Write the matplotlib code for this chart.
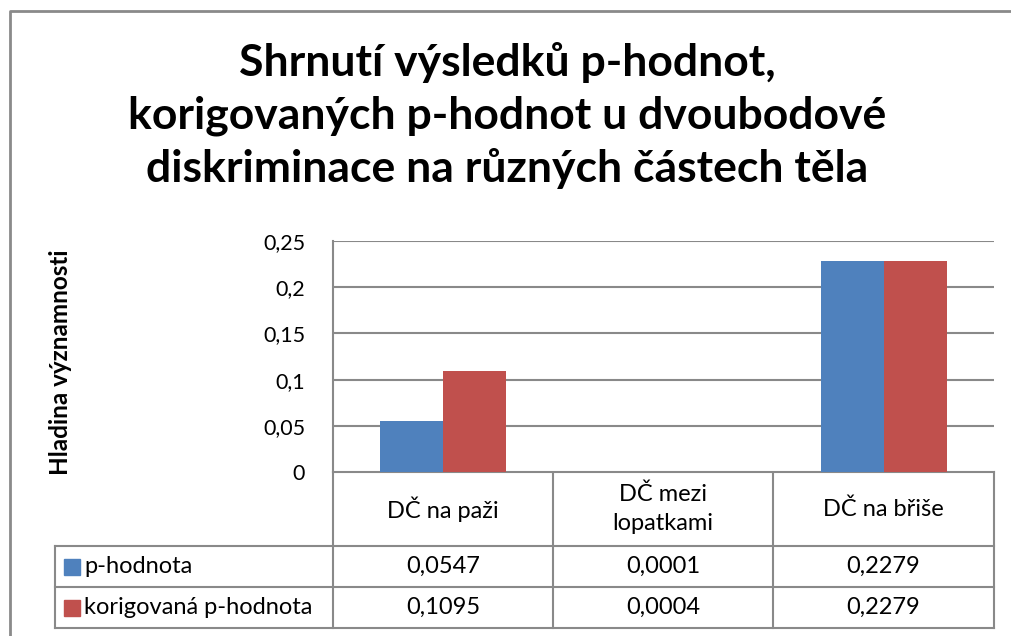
import matplotlib
matplotlib.use("Agg")
import matplotlib.pyplot as plt
import numpy as np

plt.rcParams['font.family'] = ['Lato', 'DejaVu Sans']

categories = ["DČ na paži", "DČ mezi\nlopatkami", "DČ na břiše"]
series_names = ["p-hodnota", "korigovaná p-hodnota"]
p_values = [0.0547, 0.0001, 0.2279]
p_corrected = [0.1095, 0.0004, 0.2279]
value_labels = [["0,0547", "0,0001", "0,2279"], ["0,1095", "0,0004", "0,2279"]]
y_ticks = [0, 0.05, 0.1, 0.15, 0.2, 0.25]
y_tick_labels = ["0", "0,05", "0,1", "0,15", "0,2", "0,25"]
colors = ["#4F81BD", "#C0504D"]
title_lines = ["Shrnutí výsledků p-hodnot,",
               "korigovaných p-hodnot u dvoubodové",
               "diskriminace na různých částech těla"]
ylabel = "Hladina významnosti"

W, H = 1011, 636
fig = plt.figure(figsize=(W / 100, H / 100), dpi=100)
grid_col = "#898989"

def fx(px):
    return px / W

def fy(py):
    return 1 - py / H

# background/table axes in pixel coordinates
tab = fig.add_axes([0, 0, 1, 1], zorder=-1)
tab.set_xlim(0, W)
tab.set_ylim(H, 0)
tab.axis("off")

# outer chart border (left/top visible)
tab.plot([10, 10, W], [H, 11, 11], color="#8a8a8a", lw=2)

# plot area
L, R, T, B = 333, 994, 241, 472
ax = fig.add_axes([fx(L), fy(B), fx(R) - fx(L), fy(T) - fy(B)])
n = len(categories)
x = np.arange(n)
gap = 1.5
bw = 1 / (2 + gap)
ax.bar(x - bw / 2, p_values, width=bw, color=colors[0], zorder=3)
ax.bar(x + bw / 2, p_corrected, width=bw, color=colors[1], zorder=3)
ax.set_xlim(-0.5, n - 0.5)
ax.set_ylim(0, 0.25)
ax.set_yticks(y_ticks)
ax.set_yticklabels(y_tick_labels, fontsize=15.5)
ax.tick_params(axis='y', length=0, pad=20)
ax.set_xticks([])
ax.yaxis.grid(True, color=grid_col, lw=1.5, zorder=0)
for s in ["top", "right", "bottom"]:
    ax.spines[s].set_visible(False)
ax.spines["left"].set_color(grid_col)
ax.spines["left"].set_linewidth(1.5)

# title (three centred lines, baselines matched to the reference)
for line, base in zip(title_lines, [76, 129, 182]):
    fig.text(fx(507), fy(base), line, ha="center", va="baseline",
             fontsize=32, fontweight="bold")

# y label
fig.text(fx(60), fy(362), ylabel, rotation=90, ha="center", va="center",
         fontsize=17.5, fontweight="bold")

# data table
cols = [333, 553, 773, 994]
rows = [472, 546, 587, 628]
lkw = dict(color=grid_col, lw=1.5)
tab.plot([cols[0], cols[-1]], [rows[0], rows[0]], **lkw)
for yy in rows[1:]:
    tab.plot([55, cols[-1]], [yy, yy], **lkw)
for xx in cols:
    tab.plot([xx, xx], [rows[0], rows[-1]], **lkw)
tab.plot([55, 55], [rows[1], rows[-1]], **lkw)
fs = 17
for i, c in enumerate(categories):
    tab.text((cols[i] + cols[i + 1]) / 2, (rows[0] + rows[1]) / 2, c,
             ha="center", va="center", fontsize=fs, linespacing=1.45)
for r in range(2):
    yc = (rows[r + 1] + rows[r + 2]) / 2
    tab.add_patch(plt.Rectangle((64, yc - 8), 16, 16, color=colors[r]))
    tab.text(84, yc, series_names[r], ha="left", va="center", fontsize=fs)
    for i in range(n):
        tab.text((cols[i] + cols[i + 1]) / 2, yc, value_labels[r][i],
                 ha="center", va="center", fontsize=fs)

fig.savefig("out.png", dpi=100, facecolor="white")
